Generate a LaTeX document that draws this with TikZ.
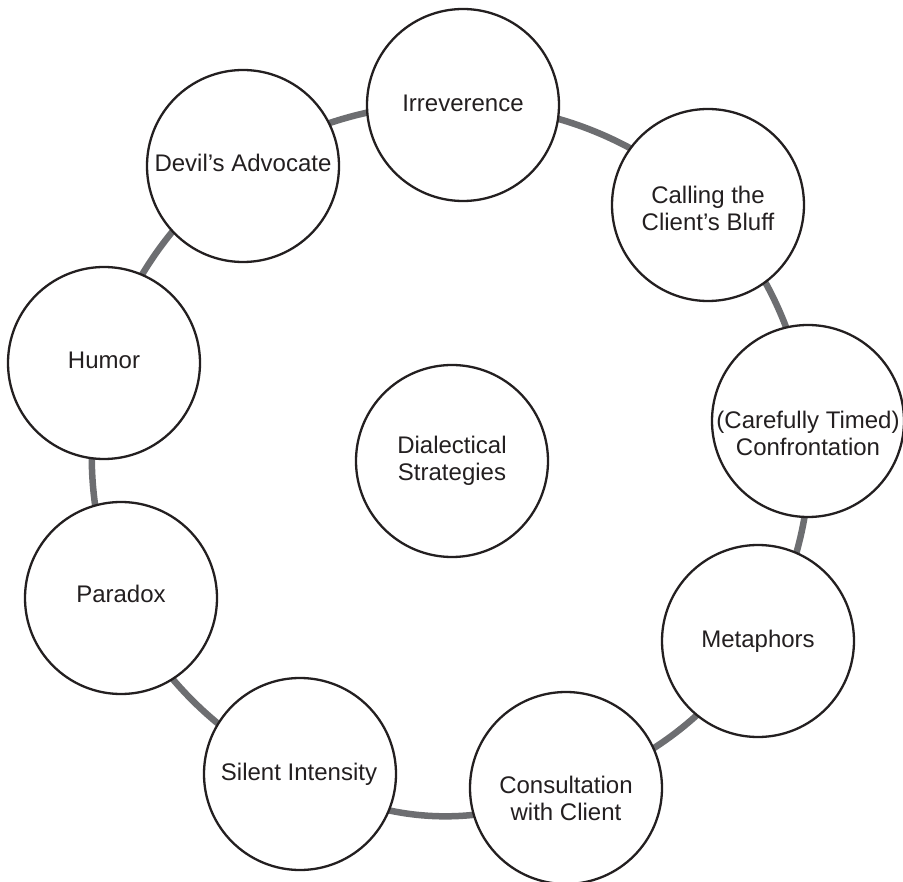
\documentclass[tikz,border=0pt]{standalone}
\usepackage{fontspec}
\setmainfont{Liberation Sans}
\usetikzlibrary{backgrounds}
\definecolor{ink}{HTML}{231F20}
\definecolor{ringgray}{HTML}{6D6E71}
\begin{document}
\begin{tikzpicture}[x=1pt,y=-1pt,
  bubble/.style={circle,draw=ink,line width=2.3pt,fill=white,minimum size=192pt,inner sep=0pt},
  caption/.style={text=ink,align=center,inner sep=0pt,font=\fontsize{24}{27}\selectfont},
  ring/.style={draw=ringgray,line width=6.5pt,looseness=0.88}]
\useasboundingbox (0,0) rectangle (903,882);

% strategy circles around the ring
\node[bubble] (irr)  at (463,105) {};
\node[bubble] (call) at (708,205) {};
\node[bubble] (conf) at (808,421) {};
\node[bubble] (met)  at (758,641) {};
\node[bubble] (cons) at (566,788) {};
\node[bubble] (sil)  at (300,774) {};
\node[bubble] (par)  at (121,598) {};
\node[bubble] (hum)  at (104,363) {};
\node[bubble] (dev)  at (243,166) {};
% centre circle
\node[bubble] (dia)  at (452,461) {};

% captions
\node[caption] (irr-t)  at ([yshift=1.7pt]irr)   {Irreverence};
\node[caption] (call-t) at ([yshift=-3pt]call)   {Calling the\\Client’s Bluff};
\node[caption] (conf-t) at ([yshift=-12pt]conf)  {(Carefully Timed)\\Confrontation};
\node[caption] (met-t)  at (met)                 {Metaphors};
\node[caption] (cons-t) at ([yshift=-10pt]cons)  {Consultation\\with Client};
\node[caption] (sil-t)  at ([xshift=-1pt]sil)    {Silent Intensity};
\node[caption] (par-t)  at ([yshift=3.7pt]par)   {Paradox};
\node[caption] (hum-t)  at ([yshift=2.5pt]hum)   {Humor};
\node[caption] (dev-t)  at ([yshift=3.5pt]dev)   {Devil’s Advocate};
\node[caption] (dia-t)  at (dia)                 {Dialectical\\Strategies};

% grey ring linking the strategies, behind the circles
\begin{scope}[on background layer]
  \draw[ring] (irr.center)  to[bend left=21.7] (call.center);
  \draw[ring] (call.center) to[bend left=19.4] (conf.center);
  \draw[ring] (conf.center) to[bend left=18.4] (met.center);
  \draw[ring] (met.center)  to[bend left=21.5] (cons.center);
  \draw[ring] (cons.center) to[bend left=29.5,looseness=0.91] (sil.center);
  \draw[ring] (sil.center)  to[bend left=20.8] (par.center);
  \draw[ring] (par.center)  to[bend left=19.1] (hum.center);
  \draw[ring] (hum.center)  to[bend left=19.5] (dev.center);
  \draw[ring] (dev.center)  to[bend left=18.6] (irr.center);
\end{scope}
\end{tikzpicture}
\end{document}
